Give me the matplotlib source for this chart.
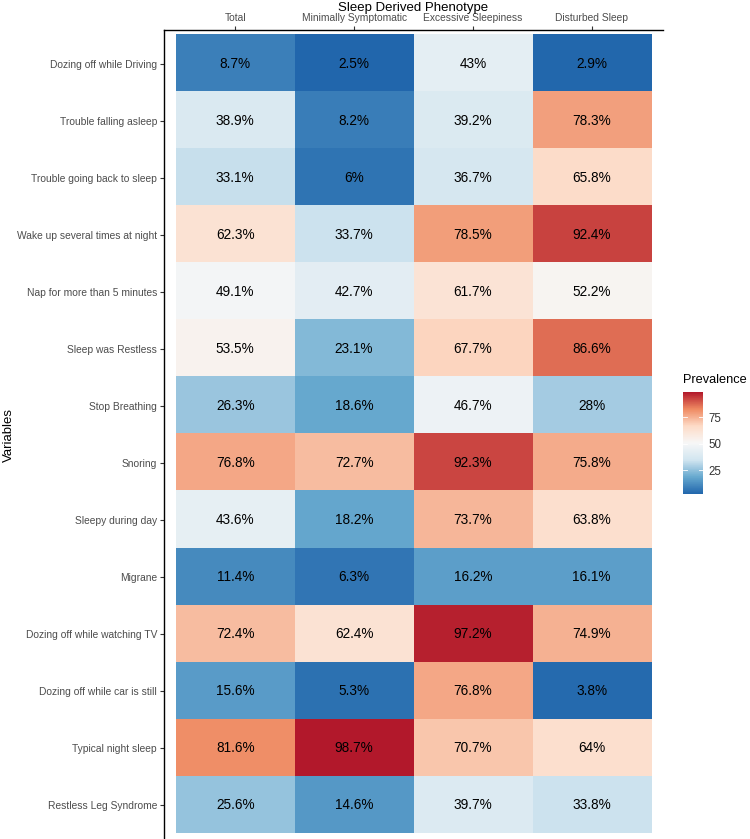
import numpy as np
import matplotlib
matplotlib.use("Agg")
import matplotlib.pyplot as plt
from matplotlib.colors import LinearSegmentedColormap, Normalize

plt.rcParams['font.family'] = ['Liberation Sans', 'DejaVu Sans']

phenotypes = ["Total", "Minimally Symptomatic", "Excessive Sleepiness", "Disturbed Sleep"]
variables = [
    "Dozing off while Driving",
    "Trouble falling asleep",
    "Trouble going back to sleep",
    "Wake up several times at night",
    "Nap for more than 5 minutes",
    "Sleep was Restless",
    "Stop Breathing",
    "Snoring",
    "Sleepy during day",
    "Migrane",
    "Dozing off while watching TV",
    "Dozing off while car is still",
    "Typical night sleep",
    "Restless Leg Syndrome",
]
total = [8.7, 38.9, 33.1, 62.3, 49.1, 53.5, 26.3, 76.8, 43.6, 11.4, 72.4, 15.6, 81.6, 25.6]
minimal = [2.5, 8.2, 6, 33.7, 42.7, 23.1, 18.6, 72.7, 18.2, 6.3, 62.4, 5.3, 98.7, 14.6]
excessive = [43, 39.2, 36.7, 78.5, 61.7, 67.7, 46.7, 92.3, 73.7, 16.2, 97.2, 76.8, 70.7, 39.7]
disturbed = [2.9, 78.3, 65.8, 92.4, 52.2, 86.6, 28, 75.8, 63.8, 16.1, 74.9, 3.8, 64, 33.8]

data = np.array([total, minimal, excessive, disturbed]).T

# RdBu distiller palette, reversed (blue = low)
rdbu = ["#2166AC", "#67A9CF", "#D1E5F0", "#F7F7F7", "#FDDBC7", "#EF8A62", "#B2182B"]
cmap = LinearSegmentedColormap.from_list("rdbu7", rdbu)
norm = Normalize(vmin=data.min(), vmax=data.max())

W, H = 750, 839
fig = plt.figure(figsize=(W / 100, H / 100), dpi=100)
ax = fig.add_axes([164 / W, 0, (663 - 164) / W, 1 - 30 / H])

ax.imshow(data, cmap=cmap, norm=norm, aspect='auto', interpolation='nearest')
for i in range(data.shape[0]):
    for j in range(data.shape[1]):
        ax.text(j, i, f"{data[i, j]:g}%", ha='center', va='center', fontsize=9.8, color='black')

ax.set_xlim(-0.6, 3.6)
ax.set_ylim(13.6, -0.59)
ax.xaxis.tick_top()
ax.set_xticks(range(len(phenotypes)))
ax.set_xticklabels(phenotypes, fontsize=7.4, color='#4D4D4D')
ax.set_yticks(range(len(variables)))
ax.set_yticklabels(variables, fontsize=7.4, color='#4D4D4D')
ax.tick_params(length=3, width=0.8, color='#333333', pad=2)
for s in ['right', 'bottom']:
    ax.spines[s].set_visible(False)
for s in ['left', 'top']:
    ax.spines[s].set_linewidth(1.0)
    ax.spines[s].set_color('black')

fig.text((164 + 663) / 2 / W, 1 - 8 / H, "Sleep Derived Phenotype", fontsize=9.5, ha='center', va='center')
fig.text(9 / W, 1 - 435 / H, "Variables", fontsize=9.5, ha='center', va='center', rotation=90)

cax = fig.add_axes([683 / W, 1 - 494 / H, 20 / W, 102 / H])
cb = fig.colorbar(plt.cm.ScalarMappable(norm=norm, cmap=cmap), cax=cax)
cb.outline.set_visible(False)
cb.set_ticks([25, 50, 75])
cax.tick_params(length=0, labelsize=8.3, labelcolor='#333333', pad=4)
for t in [25, 50, 75]:
    cax.axhline(t, xmin=0, xmax=0.2, color='white', lw=0.6)
    cax.axhline(t, xmin=0.8, xmax=1, color='white', lw=0.6)
fig.text(683 / W, 1 - 380 / H, "Prevalence", fontsize=9.2, ha='left', va='center')

fig.savefig("out.png", dpi=100)
